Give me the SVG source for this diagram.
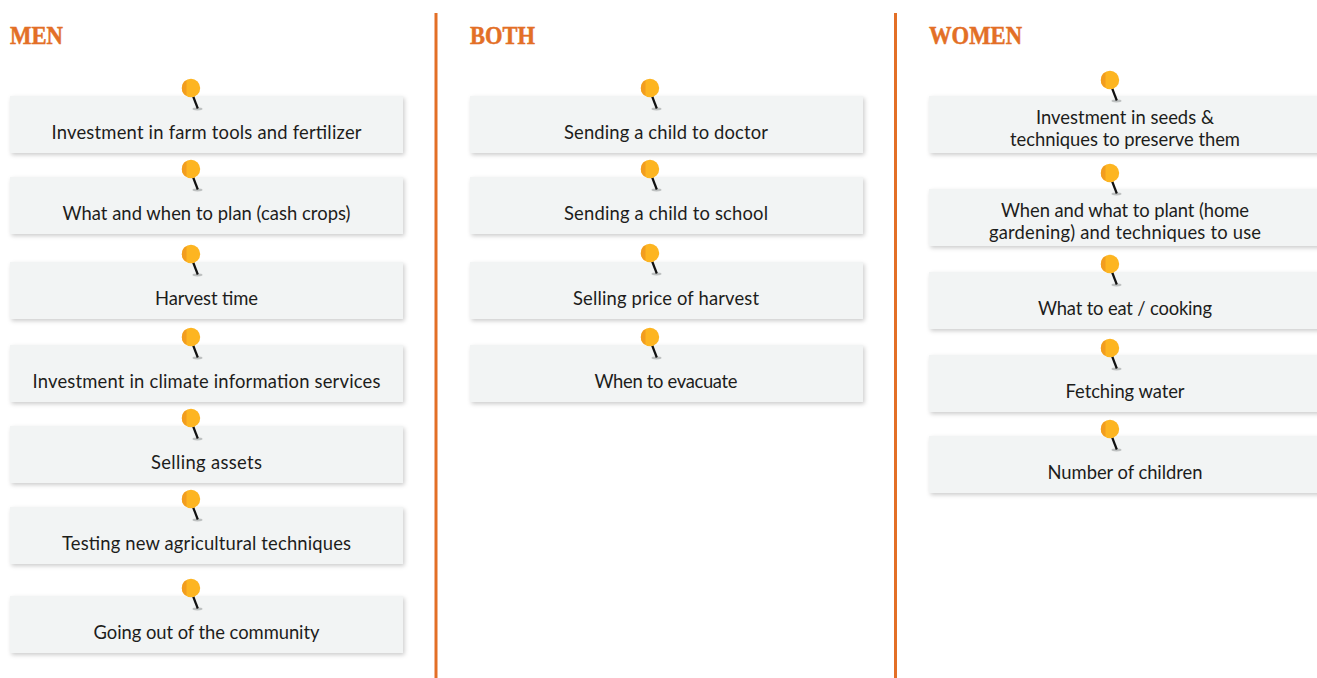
<svg xmlns="http://www.w3.org/2000/svg" xmlns:xlink="http://www.w3.org/1999/xlink" width="1317" height="678" viewBox="0 0 1317 678">
<style>
.h{font-family:"Liberation Serif",serif;font-weight:700;font-size:25px;fill:#e36f26;stroke:#e36f26;stroke-width:.5}
.t{font-family:"Lato","Noto Sans",sans-serif;font-size:18.4px;fill:#1d1d1b;text-anchor:middle}
.b{fill:#f2f4f4;filter:url(#s)}
.d{stroke:#e36f26;stroke-width:3;fill:none}
</style>
<defs>
<filter id="s" x="-3%" y="-15%" width="106%" height="135%"><feDropShadow dx="1.500" dy="2" stdDeviation="2" flood-color="#000" flood-opacity=".2"/></filter>
<g id="pin">
<ellipse cx="6.500" cy="21" rx="5" ry="1.400" fill="#9a9c9c" opacity=".6"/>
<line x1="2" y1="8" x2="6.800" y2="20.500" stroke="#111" stroke-width="2.200"/>
<circle cx="0" cy="0" r="9.200" fill="#fdb521"/>
<path d="M-4.500 -8A9.200 9.200 0 0 0 -4.500 8Z" fill="#f29d1f"/>
</g>
</defs>
<g id="connectors">
<line class="d" x1="436" y1="13" x2="436" y2="678"/>
<line class="d" x1="895.500" y1="13" x2="895.500" y2="678"/>
</g>
<g id="head-men"><text class="h" x="10" y="44" textLength="53" lengthAdjust="spacingAndGlyphs">MEN</text></g>
<g id="head-both"><text class="h" x="470" y="44" textLength="65" lengthAdjust="spacingAndGlyphs">BOTH</text></g>
<g id="head-women"><text class="h" x="929" y="44" textLength="93" lengthAdjust="spacingAndGlyphs">WOMEN</text></g>

<g id="m1"><rect class="b" x="10" y="96" width="393" height="57"/><use href="#pin" x="191" y="88"/><text class="t" x="206.500" y="139" textLength="310">Investment in farm tools and fertilizer</text></g>
<g id="m2"><rect class="b" x="10" y="177" width="393" height="57"/><use href="#pin" x="191" y="169"/><text class="t" x="206.500" y="220" textLength="288">What and when to plan (cash crops)</text></g>
<g id="m3"><rect class="b" x="10" y="262" width="393" height="57"/><use href="#pin" x="191" y="254"/><text class="t" x="206.500" y="305" textLength="103">Harvest time</text></g>
<g id="m4"><rect class="b" x="10" y="345" width="393" height="57"/><use href="#pin" x="191" y="337"/><text class="t" x="206.500" y="388" textLength="348">Investment in climate information services</text></g>
<g id="m5"><rect class="b" x="10" y="426" width="393" height="57"/><use href="#pin" x="191" y="418"/><text class="t" x="206.500" y="469" textLength="111">Selling assets</text></g>
<g id="m6"><rect class="b" x="10" y="507" width="393" height="57"/><use href="#pin" x="191" y="499"/><text class="t" x="206.500" y="550" textLength="289">Testing new agricultural techniques</text></g>
<g id="m7"><rect class="b" x="10" y="596" width="393" height="57"/><use href="#pin" x="191" y="588"/><text class="t" x="206.500" y="639" textLength="226">Going out of the community</text></g>

<g id="b1"><rect class="b" x="470" y="96" width="393" height="57"/><use href="#pin" x="650" y="88"/><text class="t" x="666" y="139" textLength="204">Sending a child to doctor</text></g>
<g id="b2"><rect class="b" x="470" y="177" width="393" height="57"/><use href="#pin" x="650" y="169"/><text class="t" x="666" y="220" textLength="204">Sending a child to school</text></g>
<g id="b3"><rect class="b" x="470" y="262" width="393" height="57"/><use href="#pin" x="650" y="253"/><text class="t" x="666" y="305" textLength="186">Selling price of harvest</text></g>
<g id="b4"><rect class="b" x="470" y="345" width="393" height="57"/><use href="#pin" x="650" y="337"/><text class="t" x="666" y="388" textLength="143">When to evacuate</text></g>

<g id="w1"><rect class="b" x="929" y="96" width="393" height="57"/><use href="#pin" x="1110" y="80"/><text class="t" x="1125" y="124" textLength="178">Investment in seeds &amp;</text><text class="t" x="1125" y="146" textLength="230">techniques to preserve them</text></g>
<g id="w2"><rect class="b" x="929" y="189" width="393" height="57"/><use href="#pin" x="1110" y="173"/><text class="t" x="1125" y="217" textLength="248">When and what to plant (home</text><text class="t" x="1125" y="239" textLength="272">gardening) and techniques to use</text></g>
<g id="w3"><rect class="b" x="929" y="272" width="393" height="57"/><use href="#pin" x="1110" y="264"/><text class="t" x="1125" y="315" textLength="174">What to eat / cooking</text></g>
<g id="w4"><rect class="b" x="929" y="355" width="393" height="57"/><use href="#pin" x="1110" y="348"/><text class="t" x="1125" y="398" textLength="119">Fetching water</text></g>
<g id="w5"><rect class="b" x="929" y="436" width="393" height="57"/><use href="#pin" x="1110" y="429"/><text class="t" x="1125" y="479" textLength="155">Number of children</text></g>
</svg>
